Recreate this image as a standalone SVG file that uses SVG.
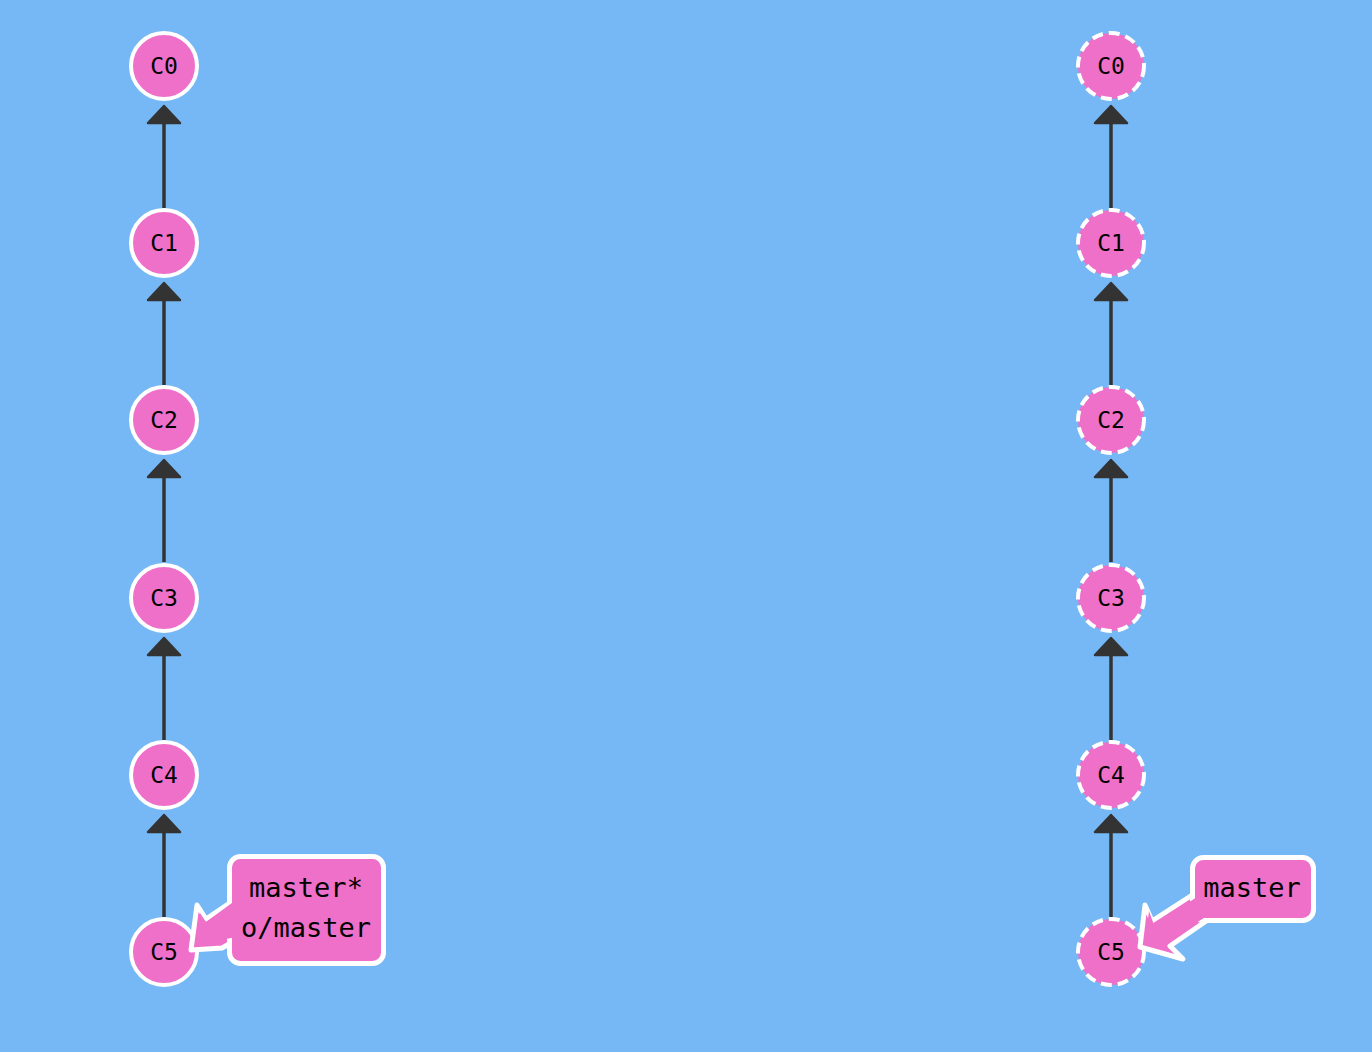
<svg xmlns="http://www.w3.org/2000/svg" width="1372" height="1052" viewBox="0 0 1372 1052">
<defs>
<marker id="ah" markerUnits="userSpaceOnUse" markerWidth="40" markerHeight="40" viewBox="-3 -20 26 40" refX="0" refY="0" orient="auto">
<path d="M0,-16 L17,0 L0,16 z" fill="#333" stroke="#333" stroke-width="2.5" stroke-linejoin="round"/>
</marker>
<style>
.bg{fill:#75b8f5}
.edge{stroke:#333;stroke-width:3.5;fill:none;marker-end:url(#ah)}
.commit{fill:#ee70c9;stroke:#fff;stroke-width:4}
.ghost{fill:#ee70c9;stroke:#fff;stroke-width:4;stroke-dasharray:11 6}
.ct{font-family:"DejaVu Sans Mono","Liberation Mono",monospace;font-size:23px;fill:#000;text-anchor:middle}
.tag{fill:#ee70c9;stroke:#fff;stroke-width:5;stroke-linejoin:round}
.tagf{fill:#ee70c9}
.tt{font-family:"DejaVu Sans Mono","Liberation Mono",monospace;font-size:27px;fill:#000;text-anchor:middle}
</style>
</defs>
<rect class="bg" x="0" y="0" width="1372" height="1052"/>
<g id="connectors">
<line class="edge" x1="164" y1="208" x2="164" y2="123"/>
<line class="edge" x1="164" y1="385" x2="164" y2="300"/>
<line class="edge" x1="164" y1="562" x2="164" y2="477"/>
<line class="edge" x1="164" y1="740" x2="164" y2="655"/>
<line class="edge" x1="164" y1="917" x2="164" y2="832"/>
<line class="edge" x1="1111" y1="208" x2="1111" y2="123"/>
<line class="edge" x1="1111" y1="385" x2="1111" y2="300"/>
<line class="edge" x1="1111" y1="562" x2="1111" y2="477"/>
<line class="edge" x1="1111" y1="740" x2="1111" y2="655"/>
<line class="edge" x1="1111" y1="917" x2="1111" y2="832"/>
</g>
<g id="L-C0"><circle class="commit" cx="164" cy="66" r="33"/><text class="ct" x="164" y="74">C0</text></g>
<g id="L-C1"><circle class="commit" cx="164" cy="243" r="33"/><text class="ct" x="164" y="251">C1</text></g>
<g id="L-C2"><circle class="commit" cx="164" cy="420" r="33"/><text class="ct" x="164" y="428">C2</text></g>
<g id="L-C3"><circle class="commit" cx="164" cy="598" r="33"/><text class="ct" x="164" y="606">C3</text></g>
<g id="L-C4"><circle class="commit" cx="164" cy="775" r="33"/><text class="ct" x="164" y="783">C4</text></g>
<g id="L-C5"><circle class="commit" cx="164" cy="952" r="33"/><text class="ct" x="164" y="960">C5</text></g>
<g id="R-C0"><circle class="ghost" cx="1111" cy="66" r="33"/><text class="ct" x="1111" y="74">C0</text></g>
<g id="R-C1"><circle class="ghost" cx="1111" cy="243" r="33"/><text class="ct" x="1111" y="251">C1</text></g>
<g id="R-C2"><circle class="ghost" cx="1111" cy="420" r="33"/><text class="ct" x="1111" y="428">C2</text></g>
<g id="R-C3"><circle class="ghost" cx="1111" cy="598" r="33"/><text class="ct" x="1111" y="606">C3</text></g>
<g id="R-C4"><circle class="ghost" cx="1111" cy="775" r="33"/><text class="ct" x="1111" y="783">C4</text></g>
<g id="R-C5"><circle class="ghost" cx="1111" cy="952" r="33"/><text class="ct" x="1111" y="960">C5</text></g>
<g id="L-tag">
<polygon class="tag" points="191,950 197,905 206,919 240,896 240,940 231,943 222,948"/>
<rect class="tag" x="229.5" y="856.5" width="154" height="107" rx="11"/>
<polygon class="tagf" points="196,945 200,913 206,922 236,900 236,937"/>
<text class="tt" x="306" y="897">master*</text>
<text class="tt" x="306" y="937">o/master</text>
</g>
<g id="R-tag">
<polygon class="tag" points="1140,947 1145,905 1152,921 1200,890 1212,917 1170,946 1183,959"/>
<rect class="tag" x="1192.5" y="857.5" width="121" height="63" rx="11"/>
<polygon class="tagf" points="1145,943 1149,911 1154,925 1200,895 1207,916 1163,944"/>
<text class="tt" x="1252" y="897">master</text>
</g>
</svg>
